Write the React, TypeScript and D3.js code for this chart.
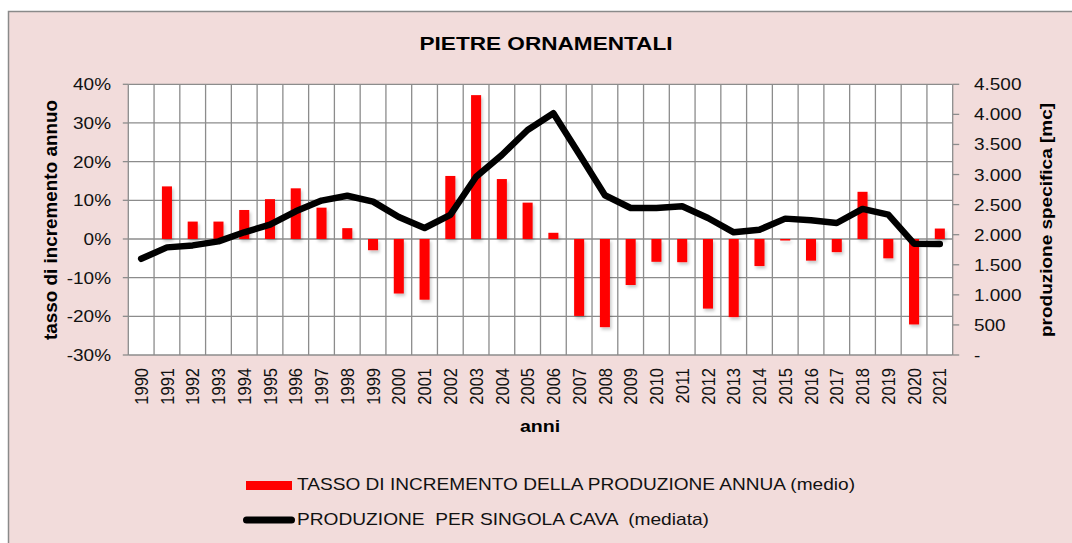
import React from "react";
import * as d3 from "d3";

// anni, tasso di incremento (%), produzione per cava (mc)
const years = ["1990", "1991", "1992", "1993", "1994", "1995", "1996", "1997", "1998", "1999", "2000", "2001", "2002", "2003", "2004", "2005", "2006", "2007", "2008", "2009", "2010", "2011", "2012", "2013", "2014", "2015", "2016", "2017", "2018", "2019", "2020", "2021"];
const rates = [null, 13.6, 4.5, 4.5, 7.5, 10.3, 13.1, 8.1, 2.8, -2.9, -14.1, -15.7, 16.3, 37.2, 15.5, 9.4, 1.6, -19.9, -22.8, -11.9, -5.9, -6.0, -18.0, -20.2, -7.0, -0.4, -5.6, -3.4, 12.2, -5.0, -22.1, 2.7];
const production = [1600, 1789, 1822, 1889, 2040, 2167, 2389, 2567, 2648, 2550, 2294, 2111, 2330, 2964, 3325, 3740, 4018, 3340, 2655, 2444, 2444, 2472, 2278, 2039, 2083, 2267, 2239, 2194, 2428, 2333, 1850, 1844];
const leftTicks = [-0.3, -0.2, -0.1, 0, 0.1, 0.2, 0.3, 0.4];
const rightTicks = [0, 500, 1000, 1500, 2000, 2500, 3000, 3500, 4000, 4500];

const title = "PIETRE ORNAMENTALI";
const leftTitle = "tasso di incremento annuo";
const rightTitle = "produzione specifica [mc]";
const xTitle = "anni";
const legendBar = "TASSO DI INCREMENTO DELLA PRODUZIONE ANNUA (medio)";
const legendLine = "PRODUZIONE  PER SINGOLA CAVA  (mediata)";

const FONT = "'Liberation Sans', Arial, sans-serif";
const SX = 1.15; // the original picture is stretched sideways
const GRID = "#8c8c8c";

const it = d3.formatLocale({ decimal: ",", thousands: ".", grouping: [3], currency: ["€", ""] });
const fmtRight = (d: number) => (d === 0 ? "-" : it.format(",")(d));
const fmtLeft = (d: number) => `${Math.round(d * 100)}%`;

const App = () => {
	const W = 1072;
	const H = 543;
	const plot = { left: 128.3, right: 952.7, top: 84.3, bottom: 355 };

	const x = d3
		.scaleBand()
		.domain(years)
		.range([plot.left, plot.right])
		.paddingInner(0.61)
		.paddingOuter(0.305);
	const step = x.step();
	const cx = (d: string) => (x(d) as number) + x.bandwidth() / 2;

	const yL = d3.scaleLinear().domain([-0.3, 0.4]).range([plot.bottom, plot.top]);
	const yR = d3.scaleLinear().domain([0, 4500]).range([plot.bottom, plot.top]);

	const line = d3
		.line<number>()
		.x((_, i) => cx(years[i]))
		.y((d) => yR(d));

	const bounds = d3.range(years.length + 1).map((i) => plot.left + i * step);

	return (
		<svg
			width={W}
			height={H}
			style={{ position: "absolute", left: 0, top: 0, fontFamily: FONT }}
		>
			<defs>
				<filter id="shadow" x="-50%" y="-20%" width="200%" height="140%">
					<feDropShadow dx="1.5" dy="2.5" stdDeviation="1.5" floodColor="#000" floodOpacity="0.22" />
				</filter>
			</defs>
			<rect x={0} y={0} width={W} height={H} fill="#fff" />
			<rect x={8.5} y={11.5} width={W + 10} height={H + 10} fill="#f2dcdb" stroke="#8a8a8a" strokeWidth={1.5} />

			<text x={546} y={50} textAnchor="middle" fontSize={19} fontWeight="bold" textLength={253} lengthAdjust="spacingAndGlyphs">
				{title}
			</text>

			{/* plot area */}
			<rect x={plot.left} y={plot.top} width={plot.right - plot.left} height={plot.bottom - plot.top} fill="#fff" />
			{leftTicks.map((t) => (
				<line key={"h" + t} x1={plot.left} x2={plot.right} y1={yL(t)} y2={yL(t)} stroke={GRID} strokeWidth={1.3} />
			))}
			{bounds.map((b, i) => (
				<line key={"v" + i} x1={b} x2={b} y1={plot.top} y2={plot.bottom} stroke={GRID} strokeWidth={1.3} />
			))}

			{/* left axis */}
			{leftTicks.map((t) => (
				<g key={"lt" + t}>
					<line x1={plot.left - 5.5} x2={plot.left} y1={yL(t)} y2={yL(t)} stroke={GRID} strokeWidth={1.3} />
					<text transform={`translate(111,${yL(t) + 6}) scale(${SX},1)`} textAnchor="end" fontSize={16.5} fill="#111">
						{fmtLeft(t)}
					</text>
				</g>
			))}

			{/* right axis */}
			{rightTicks.map((t) => (
				<g key={"rt" + t}>
					<line x1={plot.right} x2={plot.right + 6.5} y1={yR(t)} y2={yR(t)} stroke={GRID} strokeWidth={1.3} />
					<text transform={`translate(974,${yR(t) + 6}) scale(${SX},1)`} fontSize={16.5} fill="#111">
						{fmtRight(t)}
					</text>
				</g>
			))}

			{/* year labels */}
			{years.map((yr) => (
				<text
					key={"yr" + yr}
					transform={`translate(${cx(yr)},368) scale(${SX},1) rotate(-90)`}
					textAnchor="end"
					dy="0.35em"
					fontSize={16.5}
					fill="#111"
				>
					{yr}
				</text>
			))}

			{/* axis titles */}
			<text
				transform={`translate(56.5,220) rotate(-90)`}
				textAnchor="middle"
				fontSize={17.5}
				fontWeight="bold"
				textLength={240}
				lengthAdjust="spacingAndGlyphs"
			>
				{leftTitle}
			</text>
			<text
				transform={`translate(1052,220) rotate(-90)`}
				textAnchor="middle"
				fontSize={17}
				fontWeight="bold"
				textLength={234}
				lengthAdjust="spacingAndGlyphs"
			>
				{rightTitle}
			</text>
			<text transform={`translate(540,432) scale(${SX},1)`} textAnchor="middle" fontSize={17} fontWeight="bold">
				{xTitle}
			</text>

			{/* bars */}
			<g filter="url(#shadow)">
				{years.map((yr, i) => {
					const v = rates[i];
					if (v === null) return null;
					const y0 = yL(0);
					const y1 = yL(v / 100);
					return (
						<rect
							key={"b" + yr}
							x={x(yr)}
							y={Math.min(y0, y1)}
							width={x.bandwidth()}
							height={Math.max(0.8, Math.abs(y1 - y0))}
							fill="#ff0000"
						/>
					);
				})}
			</g>

			{/* line */}
			<path d={line(production) || ""} fill="none" stroke="#000" strokeWidth={6.5} strokeLinejoin="round" strokeLinecap="round" />

			{/* legend */}
			<rect x={246} y={481} width={46} height={9} fill="#ff0000" />
			<text x={297} y={490} fontSize={17} fill="#111" textLength={558} lengthAdjust="spacingAndGlyphs">
				{legendBar}
			</text>
			<line x1={246.5} x2={291.5} y1={520} y2={520} stroke="#000" strokeWidth={7} strokeLinecap="round" />
			<text x={297} y={525} fontSize={17} fill="#111" textLength={412} lengthAdjust="spacingAndGlyphs" style={{ whiteSpace: "pre" }}>
				{legendLine}
			</text>
		</svg>
	);
};

export default App;
